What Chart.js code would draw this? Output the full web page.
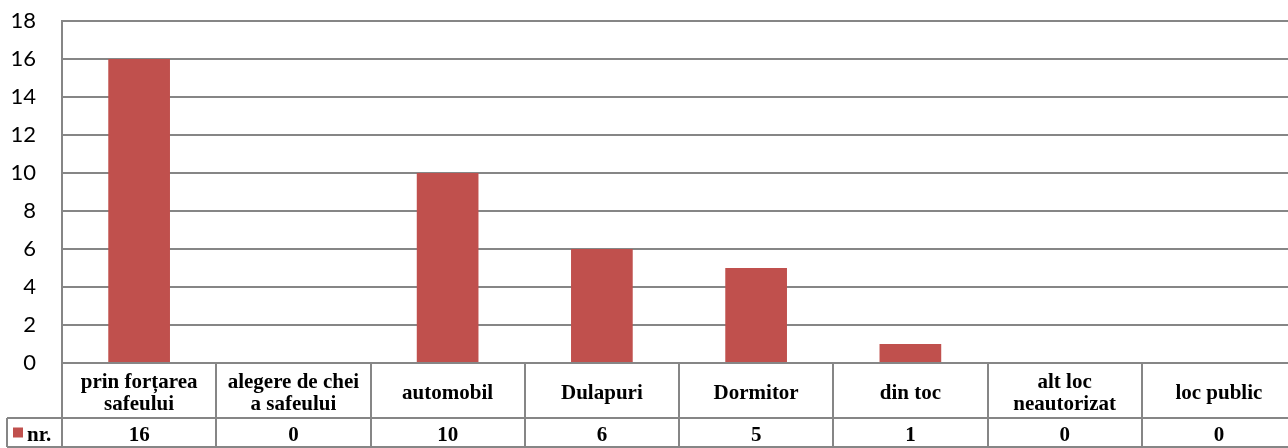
<!DOCTYPE html>
<html lang="ro">
<head>
  <meta charset="UTF-8">
  <title>nr.</title>
  <script src="https://cdn.jsdelivr.net/npm/chart.js"></script>
  <style>
    html, body { margin: 0; padding: 0; overflow: hidden; background: #fff; }
    #wrap { width: 1300px; height: 448px; }
  </style>
</head>
<body>
  <div id="wrap"><canvas id="chart" width="1300" height="448"></canvas></div>

  <script>
    // data
    const categories = [
      ['prin forțarea', 'safeului'],
      ['alegere de chei', 'a safeului'],
      ['automobil'],
      ['Dulapuri'],
      ['Dormitor'],
      ['din toc'],
      ['alt loc', 'neautorizat'],
      ['loc public']
    ];
    const seriesName = 'nr.';
    const values = [16, 0, 10, 6, 5, 1, 0, 0];
    const yTicks = [0, 2, 4, 6, 8, 10, 12, 14, 16, 18];

    const barColor = '#C0504D';
    const lineColor = '#868686';

    // draws the data table under the plot (Excel style)
    const dataTable = {
      id: 'dataTable',
      afterDraw(chart) {
        const ctx = chart.ctx;
        const area = chart.chartArea;
        const x = chart.scales.x;
        const n = categories.length;
        const w = (area.right - area.left) / n;
        const rowTop = area.bottom;
        const rowMid = rowTop + 55;
        const rowBot = 447;

        ctx.save();
        ctx.strokeStyle = lineColor;
        ctx.lineWidth = 2;
        ctx.beginPath();
        ctx.moveTo(area.left, rowTop); ctx.lineTo(area.right, rowTop);
        ctx.moveTo(7, rowMid); ctx.lineTo(area.right, rowMid);
        ctx.moveTo(7, rowBot); ctx.lineTo(area.right, rowBot);
        ctx.moveTo(7, rowMid); ctx.lineTo(7, rowBot);
        for (let i = 0; i <= n; i++) {
          const bx = Math.round(area.left + i * w);
          ctx.moveTo(bx, rowTop); ctx.lineTo(bx, rowBot);
        }
        ctx.stroke();

        ctx.fillStyle = '#000';
        ctx.textAlign = 'center';
        ctx.textBaseline = 'middle';
        ctx.font = 'bold 21px "Liberation Serif", "Times New Roman", serif';
        categories.forEach((lines, i) => {
          const cx = x.getPixelForValue(i);
          const cy = (rowTop + rowMid) / 2 + 3;
          const lh = 22;
          lines.forEach((t, j) => {
            ctx.fillText(t, cx, cy + (j - (lines.length - 1) / 2) * lh);
          });
          ctx.fillText(String(values[i]), cx, (rowMid + rowBot) / 2 + 3);
        });

        // legend key
        const ly = (rowMid + rowBot) / 2;
        ctx.fillStyle = barColor;
        ctx.fillRect(13, ly - 5, 10, 10);
        ctx.fillStyle = '#000';
        ctx.textAlign = 'left';
        ctx.fillText(seriesName, 27, ly + 3);
        ctx.restore();
      }
    };

    new Chart(document.getElementById('chart').getContext('2d'), {
      type: 'bar',
      data: {
        labels: categories,
        datasets: [{
          label: seriesName,
          data: values,
          backgroundColor: barColor,
          borderWidth: 0,
          barPercentage: 0.4,
          categoryPercentage: 1.0
        }]
      },
      options: {
        responsive: false,
        animation: false,
        layout: { padding: { top: 21, right: 4, bottom: 85, left: 0 } },
        plugins: {
          legend: { display: false },
          tooltip: { enabled: false }
        },
        scales: {
          x: {
            display: false
          },
          y: {
            min: 0,
            max: 18,
            afterFit(scale) { scale.width = 62; scale.paddingTop = 0; scale.paddingBottom = 0; },
            afterBuildTicks(scale) { scale.ticks = yTicks.map(v => ({ value: v })); },
            ticks: {
              padding: 26,
              color: '#000',
              font: { family: 'Lato, "Open Sans", sans-serif', size: 22 }
            },
            grid: { color: lineColor, lineWidth: 2, drawTicks: false },
            border: { color: lineColor, width: 2 }
          }
        }
      },
      plugins: [dataTable]
    });
  </script>
</body>
</html>
